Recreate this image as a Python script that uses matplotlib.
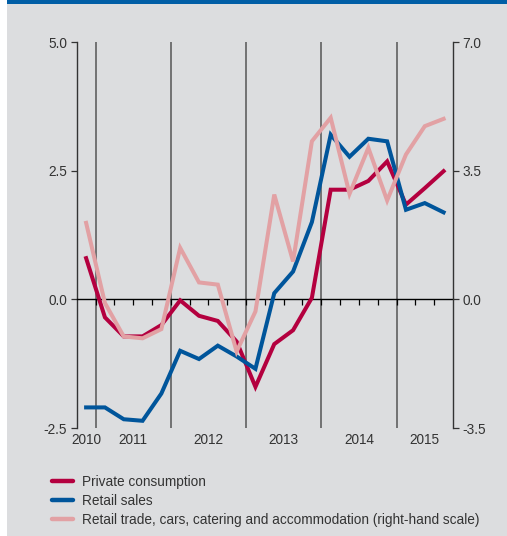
import matplotlib
matplotlib.use('Agg')
import matplotlib.pyplot as plt
from matplotlib.patches import Rectangle

plt.rcParams['font.family'] = ['Liberation Sans', 'DejaVu Sans']

# quarterly data, Q4 2010 .. Q3 2015
private_consumption = [0.80, -0.35, -0.72, -0.72, -0.50, -0.02, -0.32, -0.42, -0.82, -1.70,
                       -0.87, -0.60, 0.03, 2.13, 2.13, 2.30, 2.68, 1.84, 2.16, 2.49]
retail_sales = [-2.10, -2.10, -2.33, -2.36, -1.83, -1.00, -1.16, -0.90, -1.11, -1.35,
                0.12, 0.54, 1.50, 3.20, 2.77, 3.12, 3.07, 1.74, 1.87, 1.69]
retail_trade_rhs = [2.08, -0.10, -1.01, -1.06, -0.81, 1.40, 0.46, 0.40, -1.42, -0.33,
                    2.85, 1.03, 4.30, 4.94, 2.87, 4.12, 2.69, 3.94, 4.71, 4.91]
years = ['2010', '2011', '2012', '2013', '2014', '2015']
year_start = [0, 1, 5, 9, 13, 17]   # quarter index where each year starts
year_end = [1, 5, 9, 13, 17, 20]
left_ticks = [-2.5, 0.0, 2.5, 5.0]
right_ticks = [-3.5, 0.0, 3.5, 7.0]

RED = '#B4003F'
BLUE = '#00559B'
PINK = '#E2A1A4'
BG = '#DCDDDF'

fig = plt.figure(figsize=(5.07, 5.36), dpi=100, facecolor='white')
fig.patches.append(Rectangle((7/507, 0), 1, 1, transform=fig.transFigure,
                             facecolor=BG, edgecolor='none', zorder=-10))
fig.patches.append(Rectangle((7/507, 1 - 3.7/536), 1, 3.7/536, transform=fig.transFigure,
                             facecolor='#005EA6', edgecolor='none', zorder=-9))

ax = fig.add_axes([76.7/507, 108/536, 376.3/507, 386/536])
ax.set_facecolor('none')
ax2 = ax.twinx()
ax2.set_facecolor('none')

x = [i + 0.5 for i in range(len(private_consumption))]

ax.set_xlim(0, 20)
ax.set_ylim(-2.5, 5.0)
ax2.set_ylim(-3.5, 7.0)

for s in year_start[1:]:
    ax.axvline(s, color='#555555', lw=1.1, zorder=1)

ax.plot(x, private_consumption, color=RED, lw=2.9, zorder=4, solid_joinstyle='miter')
ax.plot(x, retail_sales, color=BLUE, lw=2.9, zorder=5, solid_joinstyle='miter')
ax2.plot(x, retail_trade_rhs, color=PINK, lw=2.9, zorder=3, solid_joinstyle='miter')

# zero line with quarter ticks
ax.spines['bottom'].set_position(('data', 0))
ax.spines['bottom'].set_color('black')
ax.spines['bottom'].set_linewidth(1.0)
ax.set_xticks(range(1, 20))
ax.tick_params(axis='x', direction='out', length=4, width=0.9, labelbottom=False, color='black')
ax.spines['top'].set_visible(False)
ax.spines['right'].set_visible(False)
ax.spines['left'].set_color('#333333')
ax.spines['left'].set_linewidth(1.0)
for sp in ['top', 'left', 'bottom']:
    ax2.spines[sp].set_visible(False)
ax2.spines['right'].set_color('#333333')
ax2.spines['right'].set_linewidth(1.0)

ax.set_yticks(left_ticks)
ax.set_yticklabels(['%.1f' % v for v in left_ticks])
ax2.set_yticks(right_ticks)
ax2.set_yticklabels(['%.1f' % v for v in right_ticks])
ax.tick_params(axis='y', length=4, width=0.9, pad=3, labelsize=9.8, colors='#333333')
ax2.tick_params(axis='y', length=4, width=0.9, pad=3, labelsize=9.8, colors='#333333')

for name, a, b in zip(years, year_start, year_end):
    ax.text((a + b) / 2, -0.012, name, transform=ax.get_xaxis_transform(),
            ha='center', va='top', fontsize=9.8, color='#333333')

handles = ax.get_lines()[-2:] + ax2.get_lines()
labels = ['Private consumption', 'Retail sales',
          'Retail trade, cars, catering and accommodation (right-hand scale)']
leg = fig.legend(handles, labels, loc='upper left', bbox_to_anchor=(52/507, 471/536 - 0.765),
                 frameon=False, fontsize=9.8, handlelength=1.52, handletextpad=0.72,
                 labelspacing=0.36, borderpad=0, borderaxespad=0)
for t in leg.get_texts():
    t.set_color('#333333')
for l in leg.get_lines():
    l.set_linewidth(3.2)
    l.set_solid_capstyle('round')

fig.savefig('out.png', dpi=100, facecolor=fig.get_facecolor())
